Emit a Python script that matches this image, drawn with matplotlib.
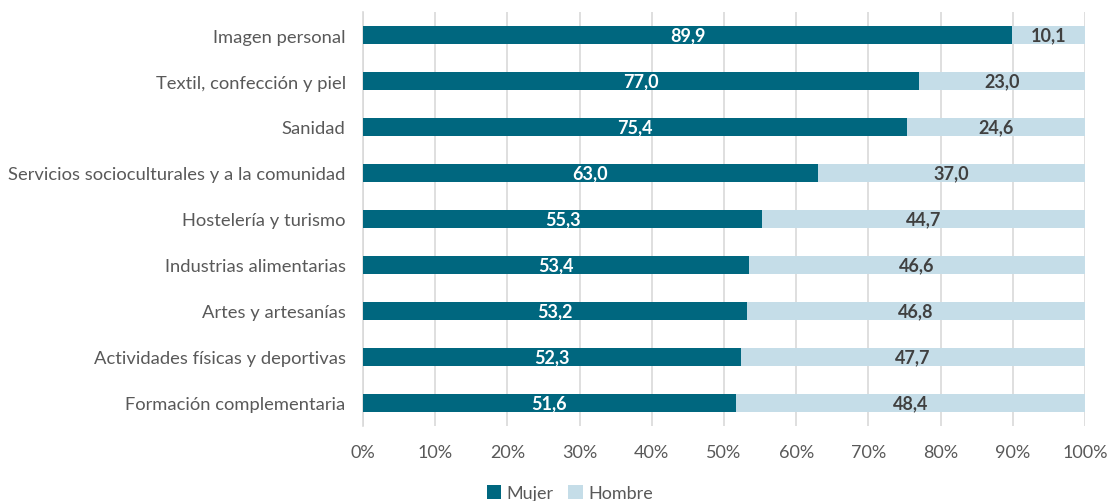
import numpy as np
import matplotlib.pyplot as plt
from matplotlib.ticker import FuncFormatter

plt.rcParams['font.family'] = ['Lato', 'DejaVu Sans']

familias = ['Imagen personal', 'Textil, confección y piel', 'Sanidad',
            'Servicios socioculturales y a la comunidad',
            'Hostelería y turismo', 'Industrias alimentarias',
            'Artes y artesanías', 'Actividades físicas y deportivas',
            'Formación complementaria']
mujer = [89.9, 77.0, 75.4, 63.0, 55.3, 53.4, 53.2, 52.3, 51.6]
hombre = [10.1, 23.0, 24.6, 37.0, 44.7, 46.6, 46.8, 47.7, 48.4]

COL_MUJER = '#00677f'
COL_HOMBRE = '#c5dde8'
GRIS = '#595959'


def coma(v):
    return f'{v:.1f}'.replace('.', ',')


fig = plt.figure(figsize=(11.1, 5.02), dpi=100)
ax = fig.add_axes([363 / 1110, 1 - 427 / 502, 722 / 1110, 414 / 502])

y = np.arange(len(familias))
alto = 0.39
ax.barh(y, mujer, height=alto, color=COL_MUJER, label='Mujer', zorder=3)
ax.barh(y, hombre, left=mujer, height=alto, color=COL_HOMBRE,
        label='Hombre', zorder=3)

for i, (m, h) in enumerate(zip(mujer, hombre)):
    ax.text(m / 2, i, coma(m), ha='center', va='center', color='white',
            fontsize=13, fontweight='bold', zorder=4)
    ax.text(m + h / 2, i, coma(h), ha='center', va='center', color='#404040',
            fontsize=13, fontweight='bold', zorder=4)

ax.set_ylim(len(familias) - 0.5, -0.5)
ax.set_xlim(0, 100)
ax.set_yticks(y)
ax.set_yticklabels(familias, fontsize=13.2, color=GRIS)
ax.set_xticks(np.arange(0, 101, 10))
ax.xaxis.set_major_formatter(FuncFormatter(lambda v, p: f'{v:.0f}%'))
ax.tick_params(axis='x', labelsize=13, labelcolor=GRIS, length=0, pad=13)
ax.tick_params(axis='y', length=0, pad=12.5)
ax.grid(axis='x', color='#d9d9d9', linewidth=1.2, zorder=0)
for s in ['top', 'right', 'bottom']:
    ax.spines[s].set_visible(False)
ax.spines['left'].set_color('#d9d9d9')
ax.spines['left'].set_linewidth(1.2)

ax.legend(loc='center', bbox_to_anchor=(570 / 1110, 1 - 494 / 502),
          bbox_transform=fig.transFigure, ncol=2, frameon=False,
          fontsize=13, labelcolor=GRIS, handlelength=0.8, handleheight=0.8,
          handletextpad=0.3, columnspacing=0.8)

fig.savefig('out.png', dpi=100)
